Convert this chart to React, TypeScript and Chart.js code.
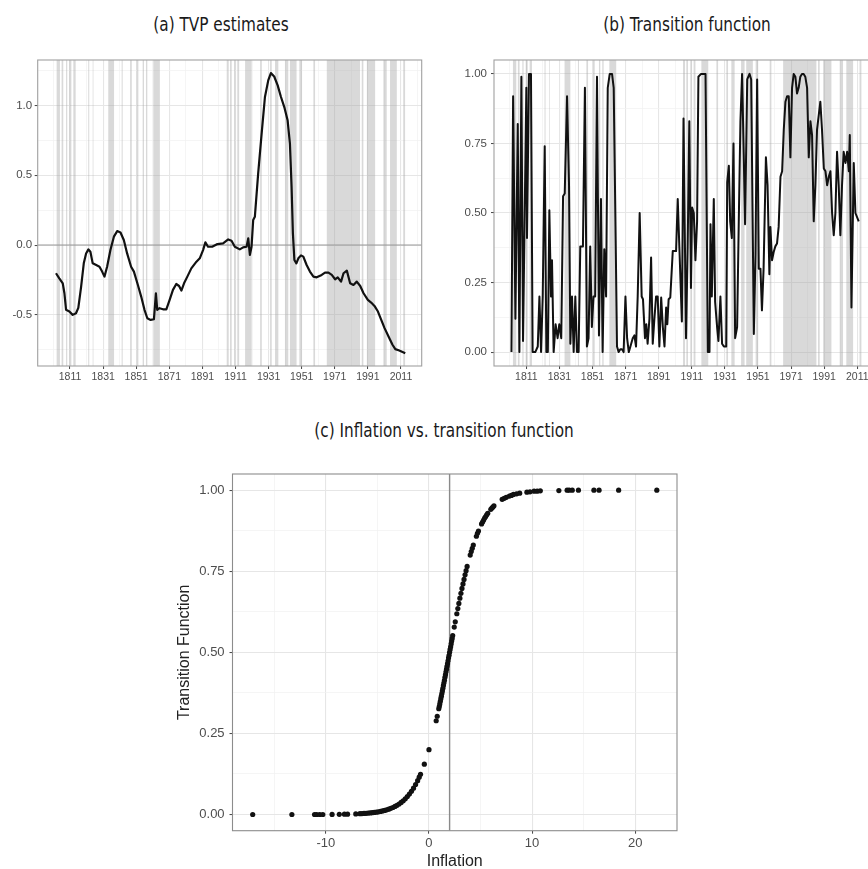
import React, { useEffect, useRef } from "react";
import { Chart, registerables } from "chart.js";

Chart.register(...registerables);

// ---------------- DATA ----------------
// (a) TVP estimates: [year, estimate]
const tvpSeries: [number, number][] = [
  [1802.5, -0.202], [1804.5, -0.238], [1806.6, -0.274], [1807.6, -0.345], [1808.6, -0.464],
  [1810.6, -0.476], [1812.6, -0.5], [1814.6, -0.488], [1816, -0.45], [1817.7, -0.298],
  [1819.3, -0.131], [1820.7, -0.06], [1822.1, -0.031], [1823.3, -0.048], [1824.7, -0.131],
  [1826.8, -0.143], [1828.8, -0.155], [1830.4, -0.19], [1831.8, -0.226], [1833.4, -0.155],
  [1835.4, -0.036], [1837.5, 0.06], [1839.5, 0.1], [1841.5, 0.09], [1843.5, 0.036],
  [1845.5, -0.06], [1847.9, -0.155], [1849.6, -0.19], [1852, -0.286], [1854, -0.369],
  [1856, -0.464], [1857.7, -0.524], [1859.7, -0.536], [1861.7, -0.531], [1862.9, -0.345],
  [1863.7, -0.464], [1865.1, -0.452], [1867.2, -0.46], [1869.2, -0.46], [1871.2, -0.393],
  [1873.2, -0.321], [1875.2, -0.279], [1876.9, -0.293], [1878.3, -0.326], [1879.9, -0.274],
  [1881.9, -0.226], [1884.3, -0.167], [1887.4, -0.119], [1889.4, -0.095], [1891.4, -0.036],
  [1892.8, 0.019], [1894.4, -0.012], [1896.9, -0.012], [1900.1, 0.007], [1903.5, 0.012],
  [1906.6, 0.04], [1908.6, 0.031], [1910.6, -0.012], [1913.6, -0.031], [1915.6, -0.017],
  [1917.7, -0.012], [1918.7, 0.048], [1919.7, -0.071], [1920.7, -0.012], [1921.7, 0.179],
  [1922.7, 0.202], [1924.7, 0.512], [1926.8, 0.798], [1928.8, 1.06], [1930.8, 1.179],
  [1932.4, 1.231], [1934.4, 1.207], [1936.5, 1.143], [1938.5, 1.06], [1940.5, 0.988],
  [1942.5, 0.893], [1943.9, 0.726], [1944.9, 0.417], [1945.7, 0.083], [1946.6, -0.107],
  [1947.8, -0.131], [1949, -0.095], [1950.6, -0.074], [1952, -0.083], [1954, -0.143],
  [1956, -0.19], [1958.1, -0.226], [1960.1, -0.231], [1963.1, -0.214], [1965.1, -0.198],
  [1967.2, -0.198], [1969.2, -0.214], [1971.2, -0.245], [1972.8, -0.231], [1974.8, -0.262],
  [1976.3, -0.202], [1978.3, -0.183], [1980.3, -0.274], [1982.3, -0.286], [1984.3, -0.262],
  [1986.4, -0.293], [1988.4, -0.345], [1991, -0.393], [1993, -0.412], [1995, -0.436],
  [1997.1, -0.476], [1999.1, -0.536], [2001.1, -0.595], [2003.5, -0.655], [2005.9, -0.714],
  [2007.6, -0.745], [2010, -0.755], [2013.6, -0.774],
];

// (b) Transition function over time: [year, value]
const transitionSeries: [number, number][] = [
  [1802, 0], [1803, 0.92], [1804.4, 0.12], [1805.8, 0.82], [1806.8, 0.0], [1808, 0.99],
  [1809, 0.04], [1811, 0.95], [1811.4, 0.41], [1812.6, 1.0], [1813.8, 1.0], [1814.8, 0.0],
  [1816.4, 0.0], [1817.9, 0.02], [1818.9, 0.2], [1819.9, 0.0], [1820.9, 0.2], [1822.1, 0.74],
  [1823.1, 0.0], [1824, 0.0], [1824.9, 0.51], [1825.9, 0.2], [1826.5, 0.33], [1827.5, 0.0],
  [1828.7, 0.1], [1829.9, 0.05], [1830.9, 0.1], [1832.1, 0.05], [1833.2, 0.56], [1834.2, 0.57],
  [1835.6, 0.92], [1836.8, 0.6], [1837.6, 0.03], [1838.6, 0.2], [1839.6, 0.0], [1840.6, 0.2],
  [1841.6, 0.0], [1842.6, 0.0], [1843.6, 0.38], [1845.2, 0.38], [1846.4, 0.95], [1847.6, 0.02],
  [1848.6, 0.05], [1849.6, 0.38], [1850.6, 0.09], [1851.6, 0.2], [1852.6, 0.2], [1853.7, 0.99],
  [1854.9, 0.06], [1856.1, 0.55], [1857.1, 0.0], [1858.1, 0.37], [1859.2, 0.2], [1860.2, 0.95],
  [1861.4, 1.0], [1862.8, 1.0], [1863.8, 0.95], [1865, 0.4], [1865.8, 0.02], [1866.8, 0.0],
  [1867.8, 0.01], [1868.8, 0.01], [1869.8, 0.0], [1870.9, 0.2], [1871.9, 0.05], [1872.9, 0.0],
  [1873.9, 0.02], [1875.3, 0.05], [1876.3, 0.06], [1877.3, 0.02], [1878.3, 0.2], [1879.5, 0.5],
  [1880.7, 0.2], [1881.5, 0.19], [1882.7, 0.05], [1883.5, 0.1], [1884.3, 0.03], [1885.4, 0.12],
  [1886.4, 0.34], [1887.4, 0.03], [1888.4, 0.12], [1889.4, 0.2], [1890.4, 0.2], [1891.4, 0.02],
  [1892.5, 0.196], [1893.5, 0.09], [1894.5, 0.02], [1895.5, 0.16], [1896.2, 0.1], [1897, 0.19],
  [1898, 0.196], [1899.5, 0.363], [1901.5, 0.363], [1902.5, 0.55], [1903.5, 0.375], [1905, 0.11],
  [1906, 0.84], [1907.5, 0.05], [1908.5, 0.375], [1909.5, 0.83], [1910.5, 0.23], [1911.2, 0.52],
  [1912.2, 0.5], [1913.2, 0.33], [1914.2, 0.47], [1915, 0.99], [1916.6, 1.0], [1919.3, 1.0],
  [1920.7, 0.0], [1921.7, 0.0], [1922.3, 0.46], [1923.1, 0.2], [1924.3, 0.55], [1925.1, 0.18],
  [1926.3, 0.09], [1927.1, 0.04], [1928.3, 0.2], [1929.3, 0.03], [1930.4, 0.02], [1931.8, 0.02],
  [1932.4, 0.61], [1933.4, 0.67], [1934.2, 0.47], [1935.2, 0.41], [1936.2, 0.75], [1937.2, 0.05],
  [1938.4, 0.09], [1939.4, 0.47], [1940.4, 0.83], [1941.4, 1.0], [1942.4, 0.71], [1943.2, 0.46],
  [1944.5, 0.98], [1945.9, 1.0], [1946.9, 0.98], [1948.5, 0.065], [1949.5, 0.35], [1950.5, 0.98],
  [1951.5, 0.3], [1952.5, 0.3], [1953.4, 0.15], [1954.4, 0.3], [1955.8, 0.7], [1956.8, 0.6],
  [1957.9, 0.28], [1958.5, 0.45], [1959.5, 0.33], [1960.5, 0.36], [1961.5, 0.38], [1962.5, 0.39],
  [1963.5, 0.45], [1964.6, 0.63], [1965.6, 0.65], [1966.6, 0.8], [1967.6, 0.9], [1968.6, 0.92],
  [1969.6, 0.92], [1970.6, 0.7], [1971.6, 0.95], [1972.6, 1.0], [1973.6, 0.99], [1974.6, 0.93],
  [1975.6, 0.95], [1976.6, 0.99], [1977.6, 1.0], [1978.6, 1.0], [1979.6, 0.99], [1980.7, 0.95],
  [1981.7, 0.7], [1982.7, 0.83], [1983.7, 0.78], [1984.7, 0.47], [1985.7, 0.6], [1986.7, 0.8],
  [1987.7, 0.85], [1988.7, 0.9], [1989.7, 0.8], [1990.8, 0.66], [1991.8, 0.65], [1992.8, 0.6],
  [1993.8, 0.63], [1994.8, 0.65], [1995.8, 0.5], [1996.8, 0.42], [1997.8, 0.5], [1998.8, 0.72],
  [1999.8, 0.6], [2000.8, 0.42], [2001.8, 0.6], [2002.8, 0.72], [2003.9, 0.68], [2004.9, 0.72],
  [2005.9, 0.65], [2006.5, 0.78], [2007.5, 0.16], [2008.9, 0.68], [2009.9, 0.5], [2011.9, 0.47],
];

// Shaded high-inflation periods (start year, end year)
const highInflationBands: [number, number][] = [
  [1802.9, 1804.9], [1805.9, 1806.9], [1808.6, 1809.3], [1810.6, 1811.8], [1813.0, 1814.4],
  [1822.0, 1822.6], [1824.7, 1825.1], [1834.1, 1837.6], [1842.2, 1842.8], [1847.3, 1848.3],
  [1851.3, 1852.3], [1854.9, 1855.7], [1856.9, 1857.7], [1861.3, 1865.3], [1905.7, 1906.9],
  [1907.7, 1908.7], [1910.1, 1910.9], [1912.1, 1913.2], [1916.8, 1920.8], [1925.9, 1926.9],
  [1931.9, 1932.9], [1934.9, 1936.9], [1940.9, 1942.9], [1943.9, 1947.9], [1949.6, 1951.1],
  [1958.1, 1959.1], [1966.2, 1986.3], [1987.3, 1988.3], [1990.4, 1995.4], [2000.4, 2002.4],
  [2004.4, 2008.5], [2012.4, 2013.5],
];

// (c) Inflation vs. transition function: [inflation, transition]
const inflationScatter: [number, number][] = [
  [-17.1, 0], [-13.3, 0], [-11.1, 0], [-10.9, 0], [-10.6, 0], [-10.3, 0], [-9.4, 0.0003],
  [-8.7, 0.0006], [-8.2, 0.0009], [-7.9, 0.001], [-7.1, 0.0018], [-6.7, 0.0024], [-6.5, 0.0028],
  [-6.3, 0.0032], [-6.1, 0.0036], [-5.9, 0.0042], [-5.7, 0.0048], [-5.5, 0.0055], [-5.3, 0.0063],
  [-5.1, 0.0072], [-4.9, 0.0083], [-4.7, 0.0095], [-4.5, 0.011], [-4.3, 0.0125], [-4.1, 0.0143],
  [-3.9, 0.0164], [-3.7, 0.0189], [-3.5, 0.0216], [-3.3, 0.0248], [-3.1, 0.0284], [-2.9, 0.0324],
  [-2.7, 0.0371], [-2.5, 0.0423], [-2.3, 0.0483], [-2.1, 0.0551], [-1.9, 0.0628], [-1.7, 0.0714],
  [-1.5, 0.0811], [-1.3, 0.0921], [-1.1, 0.1044], [-0.95, 0.115], [-0.82, 0.124], [-0.45, 0.155],
  [0.0, 0.2], [0.7, 0.289], [0.8, 0.303], [0.95, 0.326], [1.0, 0.333], [1.05, 0.341], [1.1, 0.349],
  [1.15, 0.357], [1.2, 0.365], [1.25, 0.373], [1.3, 0.381], [1.35, 0.389], [1.4, 0.398],
  [1.45, 0.406], [1.5, 0.414], [1.55, 0.423], [1.6, 0.431], [1.65, 0.44], [1.7, 0.448],
  [1.75, 0.457], [1.8, 0.465], [1.85, 0.474], [1.9, 0.483], [1.95, 0.491], [2.0, 0.5],
  [2.05, 0.509], [2.1, 0.517], [2.15, 0.526], [2.2, 0.535], [2.25, 0.543], [2.3, 0.552],
  [2.45, 0.578], [2.55, 0.594], [2.7, 0.619], [2.8, 0.635], [2.9, 0.651], [3.0, 0.667],
  [3.1, 0.682], [3.2, 0.697], [3.3, 0.711], [3.4, 0.725], [3.5, 0.739], [3.6, 0.752],
  [3.7, 0.765], [4.0, 0.8], [4.1, 0.811], [4.2, 0.821], [4.3, 0.831], [4.6, 0.858], [4.7, 0.867],
  [4.8, 0.874], [5.1, 0.896], [5.2, 0.902], [5.3, 0.908], [5.4, 0.914], [5.5, 0.919],
  [5.6, 0.924], [5.7, 0.929], [6.0, 0.941], [6.1, 0.945], [6.2, 0.948], [6.3, 0.952],
  [7.1, 0.972], [7.3, 0.975], [7.5, 0.978], [7.8, 0.982], [8.0, 0.984], [8.2, 0.987],
  [8.5, 0.989], [8.8, 0.991], [9.5, 0.994], [9.8, 0.995], [10.2, 0.997], [10.5, 0.997],
  [10.8, 0.998], [12.6, 0.999], [13.4, 1.0], [13.6, 1.0], [13.9, 1.0], [14.5, 1.0], [16.0, 1.0],
  [16.5, 1.0], [18.4, 1.0], [22.1, 1.0],
];

// Ticks
const yearTicksMajor = [1811, 1831, 1851, 1871, 1891, 1911, 1931, 1951, 1971, 1991, 2011];
const yearTickLabels = ["1811", "1831", "1851", "1871", "1891", "1911", "1931", "1951", "1971", "1991", "2011"];
const yearTicksMinor = [1801, 1821, 1841, 1861, 1881, 1901, 1921, 1941, 1961, 1981, 2001, 2021];
const tvpTicksMajor = [-0.5, 0, 0.5, 1.0];
const tvpTickLabels = ["-0.5", "0.0", "0.5", "1.0"];
const tvpTicksMinor = [-0.75, -0.25, 0.25, 0.75, 1.25];
const probTicksMajor = [0, 0.25, 0.5, 0.75, 1];
const probTickLabels = ["0.00", "0.25", "0.50", "0.75", "1.00"];
const probTicksMinor = [0.125, 0.375, 0.625, 0.875];
const inflTicksMajor = [-10, 0, 10, 20];
const inflTickLabels = ["-10", "0", "10", "20"];
const inflTicksMinor = [-15, -5, 5, 15];

const zeroLine = 0;
const inflationThreshold = 2.0;

// ---------------- STYLE ----------------
const TICK_FONT = "'Liberation Sans', Arial, Helvetica, sans-serif";
const TITLE_FONT = "'Liberation Sans Narrow', 'DejaVu Sans Condensed', 'Liberation Sans', sans-serif";

type AxisOpts = {
  min: number;
  max: number;
  major: number[];
  labels: string[];
  minor: number[];
  horizontal: boolean;
  size: number;
  fontSize: number;
  padding: number;
  title?: { text: string; size: number; padding: any };
};

function makeAxis(o: AxisOpts) {
  const all = [...o.major, ...o.minor].sort((a, b) => a - b);
  const isMajor = (v: any) => typeof v === "number" && o.major.some((m) => Math.abs(m - v) < 1e-9);
  return {
    type: "linear",
    min: o.min,
    max: o.max,
    afterBuildTicks: (s: any) => {
      s.ticks = all.map((v) => ({ value: v }));
    },
    afterFit: (s: any) => {
      if (o.horizontal) s.height = o.size;
      else s.width = o.size;
    },
    ticks: {
      autoSkip: false,
      maxRotation: 0,
      minRotation: 0,
      padding: o.padding,
      color: "#4d4d4d",
      font: { family: TICK_FONT, size: o.fontSize },
      callback: (v: any) => {
        const i = o.major.findIndex((m) => Math.abs(m - v) < 1e-9);
        return i >= 0 ? o.labels[i] : "";
      },
    },
    grid: {
      color: (c: any) => (isMajor(c.tick?.value) ? "#e6e6e6" : "#f1f1f1"),
      lineWidth: (c: any) => (isMajor(c.tick?.value) ? 1.1 : 0.7),
      drawTicks: true,
      tickLength: 3,
      tickWidth: 1,
      tickColor: (c: any) => (isMajor(c.tick?.value) ? "#444444" : "rgba(0,0,0,0)"),
    },
    border: { display: false },
    title: o.title
      ? {
          display: true,
          text: o.title.text,
          color: "#222222",
          font: { family: TICK_FONT, size: o.title.size },
          padding: o.title.padding,
        }
      : { display: false },
  };
}

function decorPlugin(cfg: { bands?: [number, number][]; hline?: number; vline?: number; border: string }) {
  return {
    id: "panelDecor",
    beforeDatasetsDraw(chart: any) {
      const { ctx, chartArea: a, scales } = chart;
      const xs = scales.x;
      const ys = scales.y;
      ctx.save();
      ctx.beginPath();
      ctx.rect(a.left, a.top, a.right - a.left, a.bottom - a.top);
      ctx.clip();
      if (cfg.bands) {
        ctx.fillStyle = "rgba(165,165,165,0.42)";
        for (const [s, e] of cfg.bands) {
          const x0 = xs.getPixelForValue(s);
          const x1 = xs.getPixelForValue(e);
          ctx.fillRect(x0, a.top, x1 - x0, a.bottom - a.top);
        }
      }
      ctx.strokeStyle = "#9a9a9a";
      ctx.lineWidth = 1.1;
      if (cfg.hline !== undefined) {
        const py = ys.getPixelForValue(cfg.hline);
        ctx.beginPath();
        ctx.moveTo(a.left, py);
        ctx.lineTo(a.right, py);
        ctx.stroke();
      }
      if (cfg.vline !== undefined) {
        const px = xs.getPixelForValue(cfg.vline);
        ctx.strokeStyle = "#8a8a8a";
        ctx.lineWidth = 1.4;
        ctx.beginPath();
        ctx.moveTo(px, a.top);
        ctx.lineTo(px, a.bottom);
        ctx.stroke();
      }
      ctx.restore();
    },
    afterDatasetsDraw(chart: any) {
      const { ctx, chartArea: a } = chart;
      ctx.save();
      ctx.strokeStyle = cfg.border;
      ctx.lineWidth = 1.1;
      ctx.strokeRect(a.left, a.top, a.right - a.left, a.bottom - a.top);
      ctx.restore();
    },
  };
}

const baseOptions = {
  animation: false,
  responsive: false,
  maintainAspectRatio: false,
  events: [],
  plugins: { legend: { display: false }, tooltip: { enabled: false }, title: { display: false } },
};

function configA() {
  return {
    type: "scatter",
    data: {
      datasets: [
        {
          data: tvpSeries.map(([x, y]) => ({ x, y })),
          showLine: true,
          borderColor: "#111111",
          borderWidth: 2.2,
          borderJoinStyle: "round",
          pointRadius: 0,
          tension: 0,
        },
      ],
    },
    options: {
      ...baseOptions,
      layout: { padding: { left: 0, top: 20, right: 8.3, bottom: 0 } },
      scales: {
        x: makeAxis({ min: 1791.45, max: 2023.55, major: yearTicksMajor, labels: yearTickLabels, minor: yearTicksMinor, horizontal: true, size: 14, fontSize: 10.5, padding: 2 }),
        y: makeAxis({ min: -0.866, max: 1.325, major: tvpTicksMajor, labels: tvpTickLabels, minor: tvpTicksMinor, horizontal: false, size: 37.7, fontSize: 11.5, padding: 2.5 }),
      },
    },
    plugins: [decorPlugin({ bands: highInflationBands, hline: zeroLine, border: "#a0a0a0" })],
  };
}

function configB() {
  return {
    type: "scatter",
    data: {
      datasets: [
        {
          data: transitionSeries.map(([x, y]) => ({ x, y })),
          showLine: true,
          borderColor: "#111111",
          borderWidth: 2,
          borderJoinStyle: "round",
          pointRadius: 0,
          tension: 0,
        },
      ],
    },
    options: {
      ...baseOptions,
      layout: { padding: { left: 0, top: 20, right: 10, bottom: 0 } },
      scales: {
        x: makeAxis({ min: 1791.45, max: 2023.55, major: yearTicksMajor, labels: yearTickLabels, minor: yearTicksMinor, horizontal: true, size: 14, fontSize: 10.5, padding: 2 }),
        y: makeAxis({ min: -0.05, max: 1.05, major: probTicksMajor, labels: probTickLabels, minor: probTicksMinor, horizontal: false, size: 64, fontSize: 11.5, padding: 4 }),
      },
    },
    plugins: [decorPlugin({ bands: highInflationBands, border: "#a0a0a0" })],
  };
}

function configC() {
  return {
    type: "scatter",
    data: {
      datasets: [
        {
          data: inflationScatter.map(([x, y]) => ({ x, y })),
          showLine: false,
          pointRadius: 2.6,
          pointBackgroundColor: "#111111",
          pointBorderWidth: 0,
          borderWidth: 0,
        },
      ],
    },
    options: {
      ...baseOptions,
      layout: { padding: { left: 0, top: 34, right: 13, bottom: 0 } },
      scales: {
        x: makeAxis({
          min: -19.06, max: 24.06, major: inflTicksMajor, labels: inflTickLabels, minor: inflTicksMinor,
          horizontal: true, size: 49.3, fontSize: 13, padding: 1.5,
          title: { text: "Inflation", size: 16, padding: { top: 0, bottom: 8.4 } },
        }),
        y: makeAxis({
          min: -0.05, max: 1.05, major: probTicksMajor, labels: probTickLabels, minor: probTicksMinor,
          horizontal: false, size: 82.5, fontSize: 13, padding: 4.9,
          title: { text: "Transition Function", size: 16, padding: { top: 24.5, bottom: 0 } },
        }),
      },
    },
    plugins: [decorPlugin({ vline: inflationThreshold, border: "#8c8c8c" })],
  };
}

function ChartPanel(props: { left: number; top: number; width: number; height: number; make: () => any }) {
  const ref = useRef<HTMLCanvasElement | null>(null);
  useEffect(() => {
    if (!ref.current) return;
    const chart = new Chart(ref.current, props.make());
    return () => chart.destroy();
  }, []);
  return (
    <canvas
      ref={ref}
      width={props.width}
      height={props.height}
      style={{ position: "absolute", left: props.left, top: props.top, width: props.width, height: props.height }}
    />
  );
}

function Caption(props: { cx: number; cy: number; text: string }) {
  return (
    <div
      style={{
        position: "absolute",
        left: props.cx - 250,
        top: props.cy - 13,
        width: 500,
        height: 26,
        lineHeight: "26px",
        textAlign: "center",
        fontFamily: TITLE_FONT,
        fontSize: 20,
        color: "#1a1a1a",
        whiteSpace: "nowrap",
        transform: "scaleX(0.85)",
        transformOrigin: "50% 50%",
      }}
    >
      {props.text}
    </div>
  );
}

export default function App() {
  return (
    <div
      style={{
        position: "absolute",
        left: 0,
        top: 0,
        width: 868,
        height: 869,
        overflow: "hidden",
        background: "#ffffff",
      }}
    >
      <Caption cx={221} cy={23.5} text="(a) TVP estimates" />
      <Caption cx={687} cy={23.5} text="(b) Transition function" />
      <Caption cx={443.5} cy={430} text="(c) Inflation vs. transition function" />
      <ChartPanel left={0} top={40} width={430} height={340} make={configA} />
      <ChartPanel left={430} top={40} width={458} height={340} make={configB} />
      <ChartPanel left={150} top={440} width={540} height={440} make={configC} />
    </div>
  );
}
